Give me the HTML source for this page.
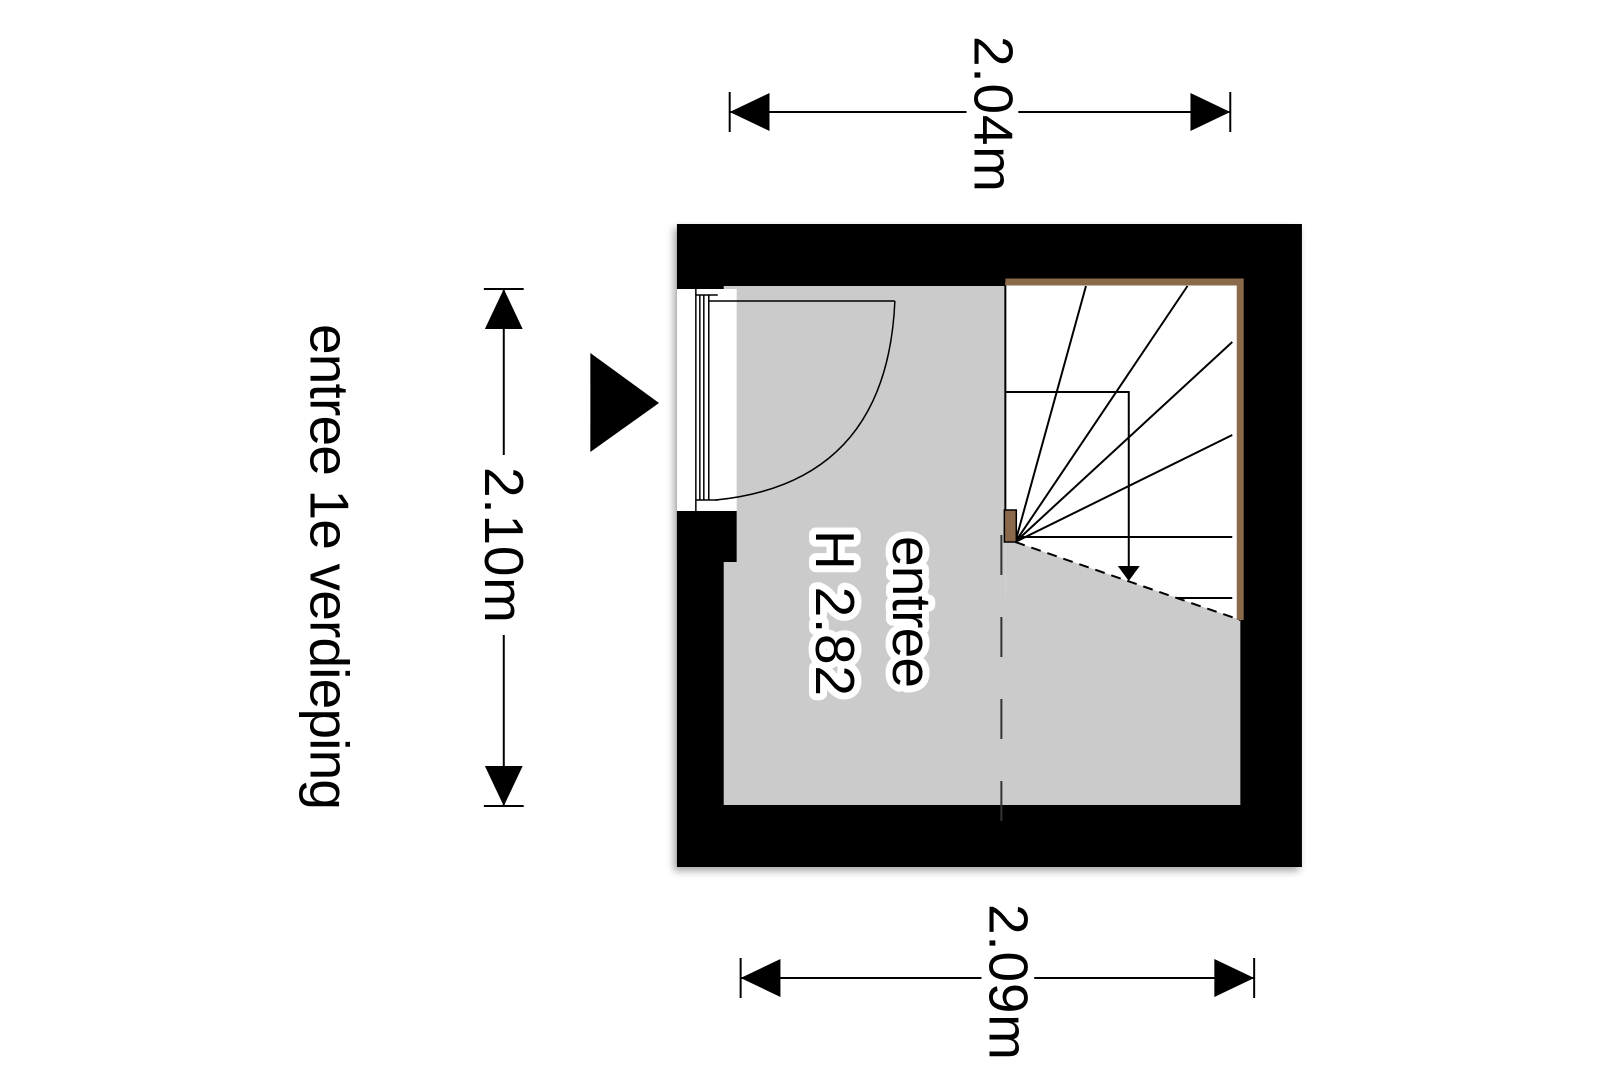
<!DOCTYPE html>
<html><head><meta charset="utf-8"><style>
html,body{margin:0;padding:0;background:#fff;}
svg{display:block;}
text{font-family:"Liberation Sans",Arial,sans-serif;fill:#000;}
</style></head><body>
<svg width="1619" height="1080" viewBox="0 0 1619 1080" xmlns="http://www.w3.org/2000/svg">
<defs>
<filter id="sh" x="-10%" y="-10%" width="120%" height="120%"><feDropShadow dx="-3" dy="4" stdDeviation="4" flood-color="#000" flood-opacity="0.35"/></filter>
</defs>
<g transform="matrix(0.9952,0,0,1,1.2,0)">
<!-- walls -->
<rect x="679" y="224" width="628" height="643" fill="#000" filter="url(#sh)"/>
<rect x="726" y="286" width="519" height="519" fill="#cbcbcb"/>
<!-- door opening -->
<rect x="679" y="289" width="60" height="222" fill="#fff"/>
<rect x="679" y="511" width="60" height="51" fill="#000"/>
<g stroke="#000" stroke-width="1.5" fill="none">
<line x1="698" y1="289" x2="698" y2="511"/>
<line x1="702" y1="295" x2="702" y2="500"/>
<line x1="706" y1="295" x2="706" y2="500"/>
<line x1="711" y1="295" x2="711" y2="500"/>
<line x1="698" y1="295" x2="720" y2="295"/>
<line x1="698" y1="500" x2="720" y2="500"/>
<line x1="711" y1="301" x2="898" y2="301"/>
<path d="M898 301 Q890 483 718 500"/>
</g>
<!-- stairs -->
<rect x="1009" y="282" width="236" height="316" fill="#fff"/>
<polygon points="1019,542 1245,620 1245,598 1019,537" fill="#fff"/>
<polygon points="1009,542 1019,542 1245,620 1245,805 1009,805" fill="#cbcbcb"/>
<g stroke="#000" stroke-width="2" fill="none">
<line x1="1009" y1="285" x2="1009" y2="542"/>
<line x1="1019" y1="542" x2="1090" y2="286"/>
<line x1="1019" y1="542" x2="1192" y2="286"/>
<line x1="1019" y1="542" x2="1237" y2="342"/>
<line x1="1019" y1="542" x2="1237" y2="435"/>
<line x1="1019" y1="537" x2="1237" y2="537"/>
<line x1="1182" y1="598" x2="1237" y2="598"/>
<polyline points="1009,392 1133,392 1133,568"/>
<line x1="1019" y1="542" x2="1245" y2="620" stroke-dasharray="10,7"/>
<line x1="1005" y1="535" x2="1005" y2="823" stroke="#333" stroke-dasharray="40,42"/>
</g>
<polygon points="1122,566 1144,566 1133,581" fill="#000"/>
<path d="M1009 282 H1245 V620" stroke="#8a6a4a" stroke-width="7" fill="none"/>
<rect x="1008" y="510" width="12" height="32" fill="#8a6a4a" stroke="#000" stroke-width="1.5"/>
<!-- entry triangle -->
<polygon points="592,353 592,452 661,403" fill="#000"/>
<!-- room label -->
<g transform="translate(915,612) rotate(90)">
<text x="0" y="0" font-size="55" text-anchor="middle" dominant-baseline="central" stroke="#fff" stroke-width="14" stroke-linejoin="round" textLength="152">entree</text>
<text x="0" y="0" font-size="55" text-anchor="middle" dominant-baseline="central" textLength="152">entree</text>
</g>
<g transform="translate(838,613) rotate(90)">
<text x="0" y="0" font-size="55" text-anchor="middle" dominant-baseline="central" stroke="#fff" stroke-width="14" stroke-linejoin="round" textLength="166">H 2.82</text>
<text x="0" y="0" font-size="55" text-anchor="middle" dominant-baseline="central" textLength="166">H 2.82</text>
</g>
<!-- dimensions -->
<g stroke="#000" stroke-width="2">
<line x1="732" y1="92" x2="732" y2="132"/><line x1="1235" y1="92" x2="1235" y2="132"/>
<line x1="732" y1="112" x2="970" y2="112"/><line x1="1022" y1="112" x2="1235" y2="112"/>
<line x1="485" y1="289" x2="525" y2="289"/><line x1="485" y1="806" x2="525" y2="806"/>
<line x1="505" y1="289" x2="505" y2="455"/><line x1="505" y1="635" x2="505" y2="806"/>
<line x1="743" y1="958" x2="743" y2="998"/><line x1="1259" y1="958" x2="1259" y2="998"/>
<line x1="743" y1="978" x2="985" y2="978"/><line x1="1038" y1="978" x2="1259" y2="978"/>
</g>
<g fill="#000">
<polygon points="732,112 772,93 772,131"/><polygon points="1235,112 1195,93 1195,131"/>
<polygon points="505,289 486,329 524,329"/><polygon points="505,806 486,766 524,766"/>
<polygon points="743,978 783,959 783,997"/><polygon points="1259,978 1219,959 1219,997"/>
</g>
<text transform="translate(997,114) rotate(90)" font-size="55" text-anchor="middle" dominant-baseline="central" textLength="156">2.04m</text>
<text transform="translate(505,545) rotate(90)" font-size="55" text-anchor="middle" dominant-baseline="central" textLength="156">2.10m</text>
<text transform="translate(1012,982) rotate(90)" font-size="55" text-anchor="middle" dominant-baseline="central" textLength="156">2.09m</text>
<text transform="translate(330,567) rotate(90)" font-size="55" text-anchor="middle" dominant-baseline="central" textLength="486">entree 1e verdieping</text>
</g>
</svg>
</body></html>
